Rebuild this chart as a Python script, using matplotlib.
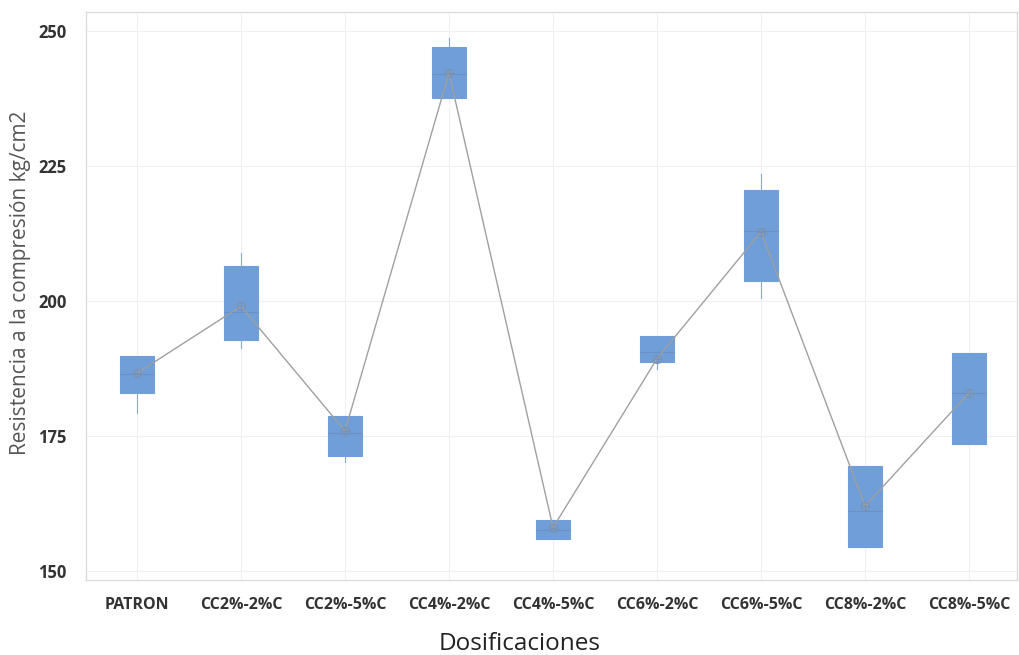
import matplotlib.pyplot as plt

plt.rcParams['font.family'] = ['Open Sans', 'DejaVu Sans']

categorias = ['PATRON', 'CC2%-2%C', 'CC2%-5%C', 'CC4%-2%C', 'CC4%-5%C',
              'CC6%-2%C', 'CC6%-5%C', 'CC8%-2%C', 'CC8%-5%C']
q1 = [183.0, 192.8, 171.3, 237.6, 155.9, 188.7, 203.7, 154.4, 173.5]
q3 = [189.8, 206.5, 178.7, 247.0, 159.4, 193.5, 220.6, 169.4, 190.4]
mediana = [186.5, 198.0, 175.5, 242.0, 157.5, 190.5, 213.0, 161.0, 183.0]
bigote_inf = [179.3, 191.3, 170.2, 237.6, 155.9, 187.4, 200.5, 154.4, 173.5]
bigote_sup = [189.8, 208.9, 178.7, 248.7, 159.4, 193.5, 223.5, 169.4, 190.4]
media = [186.6, 199.0, 175.9, 242.2, 158.0, 189.3, 212.8, 162.0, 183.0]

fig = plt.figure(figsize=(10.2, 6.55), dpi=100)
ax = fig.add_axes([0.0843, 0.1145, 0.9127, 0.8672])

stats = []
for i, nombre in enumerate(categorias):
    stats.append({'label': nombre, 'q1': q1[i], 'q3': q3[i], 'med': mediana[i],
                  'whislo': bigote_inf[i], 'whishi': bigote_sup[i], 'mean': media[i]})

ax.bxp(stats, positions=range(len(categorias)), widths=0.33, patch_artist=True,
       showfliers=False, showcaps=False,
       boxprops=dict(facecolor='#6f9ed8', edgecolor='#6f9ed8', linewidth=0.8),
       whiskerprops=dict(color='#8aa8cc', linewidth=0.8),
       medianprops=dict(color='#6a90c6', linewidth=0.8), zorder=2)

x = list(range(len(categorias)))
ax.plot(x, media, color='#a0a0a0', linewidth=1.0, zorder=3)
ax.plot(x, media, linestyle='none', marker='o', markersize=6, markerfacecolor='none',
        markeredgecolor='#8090a8', markeredgewidth=0.7, zorder=4)
ax.plot(x, media, linestyle='none', marker='+', markersize=6,
        markeredgecolor='#8090a8', markeredgewidth=0.7, zorder=4)

ax.set_xlim(-0.49, 8.46)
ax.set_ylim(148.3, 253.5)
ax.set_yticks([150, 175, 200, 225, 250])
ax.set_xticks(x)
ax.set_xticklabels(categorias)

ax.grid(True, color='#f0f0f0', linewidth=0.8, zorder=0)
ax.set_axisbelow(True)
for s in ax.spines.values():
    s.set_color('#dcdcdc')
    s.set_linewidth(1.0)

ax.tick_params(axis='both', length=0, colors='#333333')
ax.tick_params(axis='x', pad=12, labelsize=11.5)
ax.tick_params(axis='y', pad=14, labelsize=12)
for lbl in ax.get_xticklabels() + ax.get_yticklabels():
    lbl.set_fontweight('bold')

ax.set_xlabel('Dosificaciones', fontsize=17.5, color='#222222')
ax.xaxis.set_label_coords(0.466, -0.091)
ax.set_ylabel('Resistencia a la compresión kg/cm2', fontsize=15, color='#555555')
ax.yaxis.set_label_coords(-0.059, 0.523)

fig.savefig('out.png', dpi=100)
